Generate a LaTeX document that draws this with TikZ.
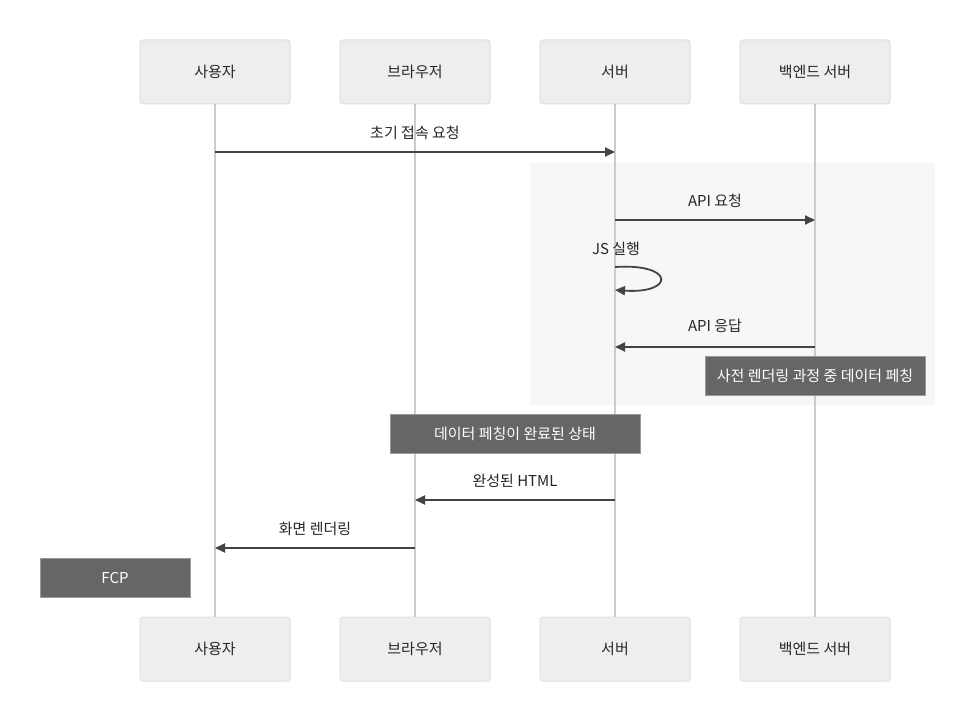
\documentclass[tikz,border=0pt]{standalone}
\usepackage{fontspec}
\setmainfont{Noto Sans CJK KR}
\usetikzlibrary{arrows.meta}
\definecolor{actfill}{HTML}{EEEEEE}
\definecolor{actline}{HTML}{E0E0E0}
\definecolor{lifeline}{HTML}{CCCCCC}
\definecolor{msg}{HTML}{444444}
\definecolor{notefill}{HTML}{666666}
\definecolor{noteline}{HTML}{999999}
\definecolor{boxfill}{HTML}{F7F7F7}
\tikzset{
  actor/.style={draw=actline, fill=actfill, rounded corners=3pt, line width=1pt,
    minimum width=150pt, minimum height=64pt, inner sep=0pt, font=\fontsize{15pt}{17pt}\selectfont, text=black!85},
  life/.style={draw=lifeline, line width=1.5pt},
  msgline/.style={draw=msg, line width=1.8pt, -{Triangle[length=10pt,width=9pt]}},
  msglabel/.style={font=\fontsize{15pt}{17pt}\selectfont, text=black!85, inner sep=0pt},
  notebox/.style={draw=noteline, fill=notefill, line width=1pt, inner sep=0pt,
    font=\fontsize{15pt}{17pt}\selectfont, text=white}
}
\begin{document}
\begin{tikzpicture}[x=1pt,y=-1pt]
\useasboundingbox (0,0) rectangle (976,722);
\fill[white] (0,0) rectangle (976,722);
% highlight rect
\fill[boxfill] (530,163) rectangle (935,405);
% actors
\node[actor] (uT) at (215,72) {사용자};
\node[actor] (bT) at (415,72) {브라우저};
\node[actor] (sT) at (615,72) {서버};
\node[actor] (kT) at (815,72) {백엔드 서버};
\node[actor] (uB) at (215,649) {사용자};
\node[actor] (bB) at (415,649) {브라우저};
\node[actor] (sB) at (615,649) {서버};
\node[actor] (kB) at (815,649) {백엔드 서버};
% lifelines
\draw[life] (uT.south) -- (uB.north);
\draw[life] (bT.south) -- (bB.north);
\draw[life] (sT.south) -- (sB.north);
\draw[life] (kT.south) -- (kB.north);
% message anchor points
\coordinate (m1a) at (215,152); \coordinate (m1b) at (615,152);
\coordinate (m2a) at (615,220); \coordinate (m2b) at (815,220);
\coordinate (m3a) at (615,267); \coordinate (m3b) at (615,290);
\coordinate (m4a) at (815,347); \coordinate (m4b) at (615,347);
\coordinate (m5a) at (615,500); \coordinate (m5b) at (415,500);
\coordinate (m6a) at (415,548); \coordinate (m6b) at (215,548);
% messages
\node[msglabel] (l1) at (415,133) {초기 접속 요청};
\draw[msgline] (m1a) -- (m1b);
\node[msglabel] (l2) at (715,201) {API 요청};
\draw[msgline] (m2a) -- (m2b);
\node[msglabel] (l3) at (616,249) {JS 실행};
\draw[msgline] (m3a) .. controls (675,263) and (675,294) .. (m3b);
\node[msglabel] (l4) at (715,326) {API 응답};
\draw[msgline] (m4a) -- (m4b);
\node[msglabel] (l5) at (515,481) {완성된 HTML};
\draw[msgline] (m5a) -- (m5b);
\node[msglabel] (l6) at (315,529) {화면 렌더링};
\draw[msgline] (m6a) -- (m6b);
% notes
\node[notebox, minimum width=220pt, minimum height=39pt] (n1) at (815,375.5) {사전 렌더링 과정 중 데이터 페칭};
\node[notebox, minimum width=250pt, minimum height=39pt] (n2) at (515,433.5) {데이터 페칭이 완료된 상태};
\node[notebox, minimum width=150pt, minimum height=39pt] (n3) at (115,577.5) {FCP};
\end{tikzpicture}
\end{document}
